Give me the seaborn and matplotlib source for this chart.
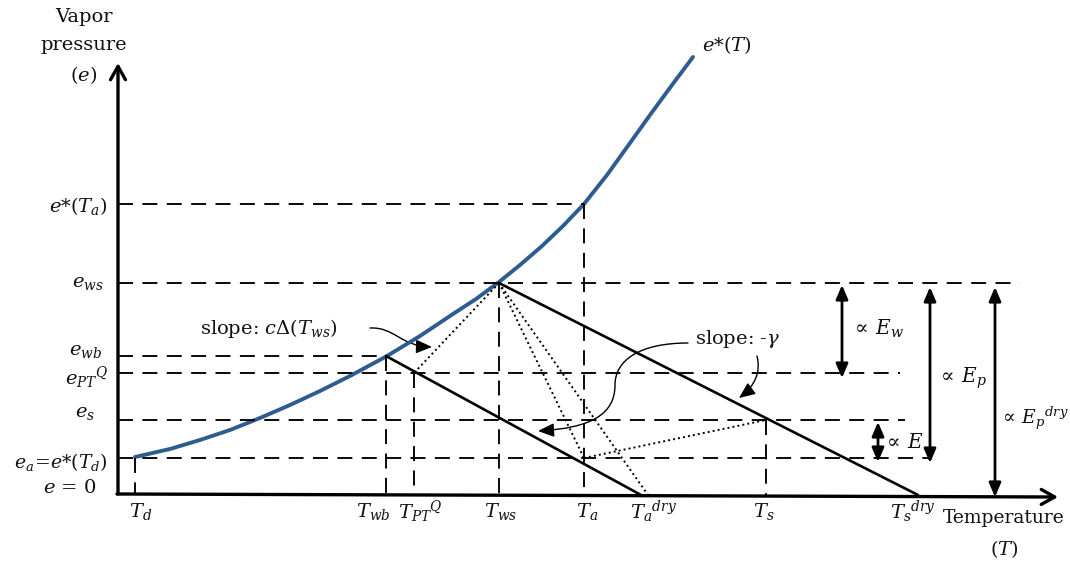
import matplotlib
matplotlib.use("Agg")
import matplotlib.pyplot as plt
import seaborn as sns
import pandas as pd
from matplotlib.patches import FancyArrowPatch
from matplotlib.path import Path

# ---------------- data (schematic units: T along x, e upward from axis) -------------
T_names = ["T_d", "T_wb", "T_PTQ", "T_ws", "T_a", "T_a_dry", "T_s", "T_s_dry"]
T_vals = [135, 386, 414, 499, 584, 648, 766, 918]
e_names = ["e_a", "e_s", "e_PTQ", "e_wb", "e_ws", "e_star_Ta"]
e_vals = [37, 75, 122, 139, 212, 291]
wet_line_end = 641

curve_T = [135, 170, 200, 230, 260, 290, 320, 350, 387, 420, 453, 476, 499, 520, 542, 563,
           584, 607, 630, 650, 672, 693]
curve_e = [38, 46, 55, 65, 77, 90, 104, 119, 139, 159, 181, 196, 213, 230, 249, 269,
           291, 320, 352, 380, 410, 438]

T = dict(zip(T_names, T_vals))
E = dict(zip(e_names, e_vals))

# ---------------- style ----------------
sns.set_theme(style="white")
plt.rcParams["font.family"] = ["DejaVu Serif"]
plt.rcParams["mathtext.fontset"] = "dejavuserif"

W, H = 1070, 562
BASE = 495  # pixel row of e = 0


def py(p):  # pixel row -> e value
    return BASE - p


fig = plt.figure(figsize=(W / 100, H / 100), dpi=100)
ax = fig.add_axes([0, 0, 1, 1])
ax.set_xlim(0, W)
ax.set_ylim(BASE - H, BASE)
ax.axis("off")

FS = 14
dash = (0, (8, 5))
dlw = 1.35

# saturation curve
df = pd.DataFrame({"T": curve_T, "e": curve_e})
sns.lineplot(data=df, x="T", y="e", ax=ax, color="#2e5c8f", lw=2.8, sort=False)

x0 = 118
# horizontal dashed lines
h_lines = [
    (E["e_star_Ta"], T["T_a"]),
    (E["e_ws"], 1020),
    (E["e_wb"], T["T_wb"]),
    (E["e_PTQ"], 900),
    (E["e_s"], 905),
    (E["e_a"], 930),
]
for e, xe in h_lines:
    ax.plot([x0, xe], [e, e], color="black", lw=dlw, ls=dash)

# vertical dashed lines
v_lines = [
    (T["T_d"], E["e_a"]),
    (T["T_wb"], E["e_wb"]),
    (T["T_PTQ"], E["e_PTQ"]),
    (T["T_ws"], E["e_ws"]),
    (T["T_a"], E["e_star_Ta"]),
    (T["T_s"], E["e_s"]),
]
for t, e in v_lines:
    ax.plot([t, t], [e, 0], color="black", lw=dlw, ls=dash)

# solid psychrometric lines
ax.plot([T["T_ws"], T["T_s_dry"]], [E["e_ws"], 0], color="black", lw=1.9)
ax.plot([T["T_wb"], wet_line_end], [E["e_wb"], 0], color="black", lw=1.9)

# dotted lines
dots = [
    ((T["T_ws"], E["e_ws"]), (T["T_PTQ"], E["e_PTQ"])),
    ((T["T_ws"], E["e_ws"]), (T["T_a"], E["e_a"])),
    ((T["T_ws"], E["e_ws"]), (T["T_a_dry"], 0)),
    ((T["T_a"], E["e_a"]), (T["T_s"], E["e_s"])),
]
for (xa, ya), (xb, yb) in dots:
    ax.plot([xa, xb], [ya, yb], color="black", lw=1.4, ls=(0, (1, 1.6)))

# axes with arrows
ax.annotate("", xy=(x0, py(63)), xytext=(x0, py(494)),
            arrowprops=dict(arrowstyle="->,head_length=0.8,head_width=0.45", lw=2.4, color="black",
                            shrinkA=0, shrinkB=0))
ax.annotate("", xy=(1058, py(497)), xytext=(x0 - 1, py(494)),
            arrowprops=dict(arrowstyle="->,head_length=0.8,head_width=0.45", lw=2.4, color="black",
                            shrinkA=0, shrinkB=0))

# double arrows on the right
dbl = [
    (842, E["e_ws"] - 2, py(378)),
    (930, E["e_ws"] - 4, py(463)),
    (995, E["e_ws"] - 4, py(497)),
    (878, py(422), py(462)),
]
for xa, ytop, ybot in dbl:
    ax.annotate("", xy=(xa, ytop), xytext=(xa, ybot),
                arrowprops=dict(arrowstyle="<|-|>,head_length=0.7,head_width=0.3", lw=2.0,
                                color="black", shrinkA=0, shrinkB=0))


# curved annotation arrows
def curved(verts, codes):
    path = Path([(x, py(y)) for x, y in verts], codes)
    p = FancyArrowPatch(path=path, arrowstyle="-|>,head_length=0.7,head_width=0.3",
                        lw=1.0, color="black", mutation_scale=14)
    ax.add_patch(p)


C = Path.CURVE4
curved([(370, 328), (395, 327), (400, 346), (432, 347)], [Path.MOVETO, C, C, C])
curved([(688, 343), (640, 343), (615, 360), (615, 385), (615, 415), (590, 428), (538, 431)],
       [Path.MOVETO, C, C, C, C, C, C])
curved([(757, 356), (761, 372), (755, 386), (739, 398)], [Path.MOVETO, C, C, C])


# ---------------- texts ----------------
def txt(x, y, s, ha="center", va="center", fs=FS):
    ax.text(x, py(y), s, ha=ha, va=va, fontsize=fs, color="#111111")


txt(84, 17, "Vapor")
txt(84, 45, "pressure")
txt(84, 75, r"($e$)")

txt(108, 206, r"$e$*($T_a$)", ha="right")
txt(88, 283, r"$e_{ws}$")
txt(86, 351, r"$e_{wb}$")
txt(87, 378, r"$e_{PT}{}^{Q}$")
txt(85, 413, r"$e_s$")
txt(107, 462, r"$e_a\!=\!e$*($T_d$)", ha="right", fs=13.5)
txt(70, 488, r"$e$ = 0")

ylab = 512
txt(141, ylab, r"$T_d$")
txt(373, ylab, r"$T_{wb}$")
txt(420, ylab, r"$T_{PT}{}^{Q}$")
txt(501, ylab, r"$T_{ws}$")
txt(587, ylab, r"$T_a$")
txt(653, ylab, r"$T_a{}^{dry}$")
txt(764, ylab, r"$T_s$")
txt(913, ylab, r"$T_s{}^{dry}$")
txt(1004, 518, "Temperature", fs=13.5)
txt(1004, 549, r"($T$)")

txt(727, 45, r"$e$*($T$)")
txt(269, 328, r"slope: $c\Delta$($T_{ws}$)")
txt(738, 339, r"slope: -$\gamma$")

txt(851, 329, r"$\propto\,E_w$", ha="left", fs=14.5)
txt(937, 378, r"$\propto\,E_p$", ha="left", fs=14.5)
txt(999, 418, r"$\propto\,E_p{}^{dry}$", ha="left", fs=13.5)
txt(883, 443, r"$\propto\,E$", ha="left", fs=14.5)

fig.savefig("out.png", dpi=100)
